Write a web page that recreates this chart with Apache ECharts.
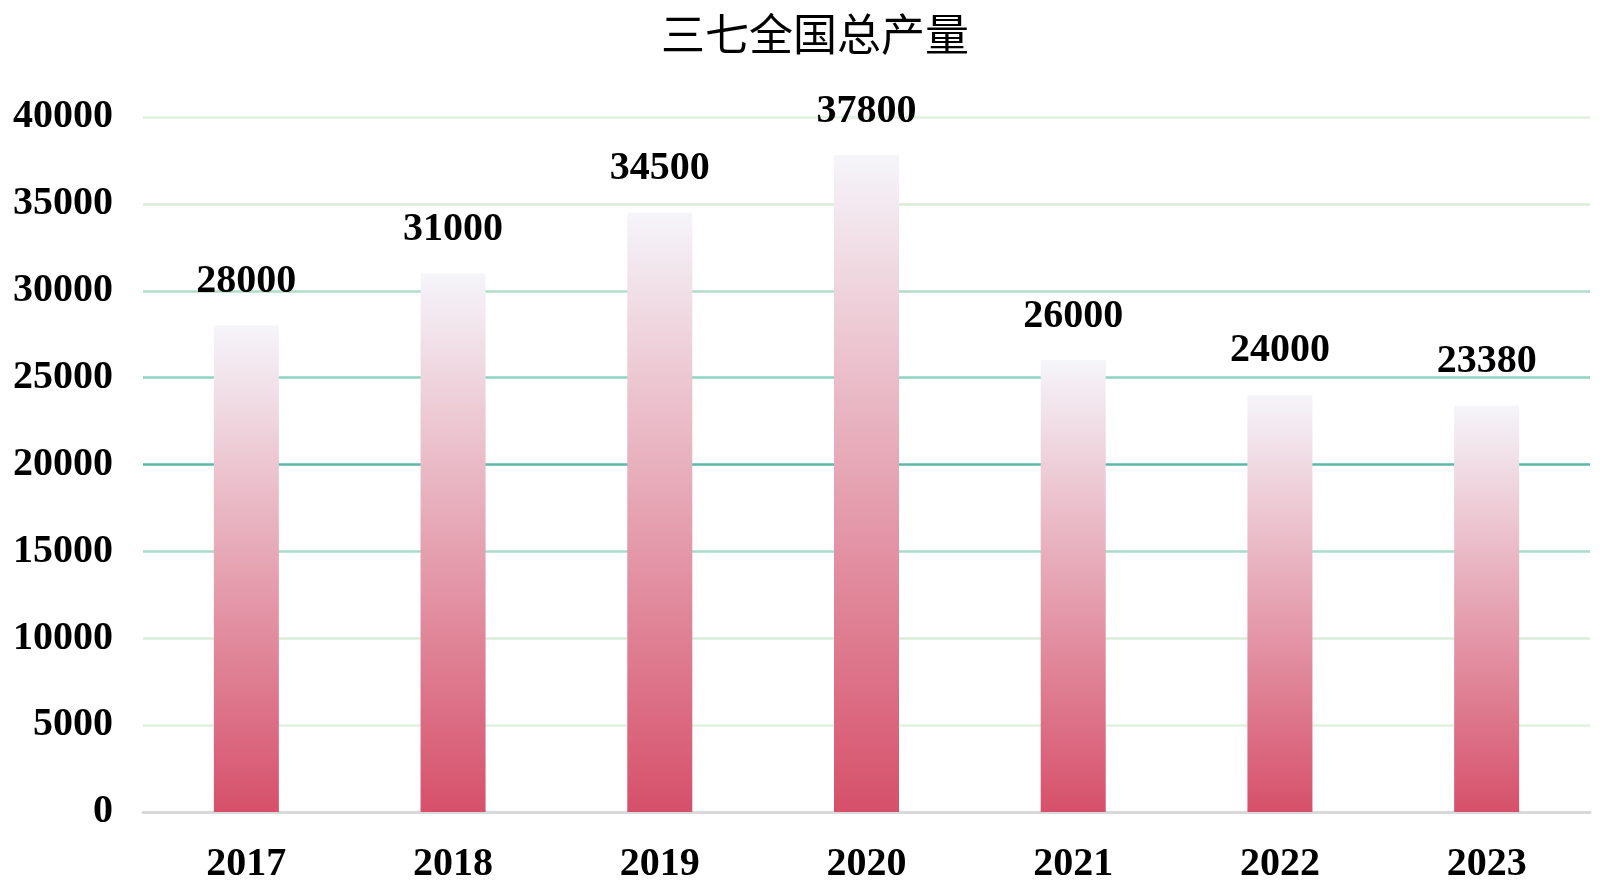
<!DOCTYPE html>
<html>
<head>
<meta charset="utf-8">
<script src="https://cdn.jsdelivr.net/npm/echarts@6/dist/echarts.min.js"></script>
<style>
html,body{margin:0;padding:0;background:#fff;}
#c{width:1600px;height:885px;}
</style>
</head>
<body>
<div id="c"></div>
<script>
const titleText = '三七全国总产量';
const categories = ['2017','2018','2019','2020','2021','2022','2023'];
const values = [28000, 31000, 34500, 37800, 26000, 24000, 23380];
const yTicks = [0, 5000, 10000, 15000, 20000, 25000, 30000, 35000, 40000];

const chart = echarts.init(document.getElementById('c'));
const serif = '"Liberation Serif","Times New Roman",serif';
chart.setOption({
  animation: false,
  backgroundColor: '#ffffff',
  title: {
    text: titleText,
    left: 810, top: 7, textAlign: 'center',
    textStyle: { fontFamily: '"Noto Sans CJK SC"', fontWeight: 'normal', fontSize: 44, color: '#000' }
  },
  grid: { left: 143, right: 10, top: 117, bottom: 72 },
  xAxis: {
    type: 'category',
    data: categories,
    axisLine: { show: true, lineStyle: { color: '#d9d9d9', width: 3 } },
    axisTick: { show: false },
    axisLabel: { margin: 33, fontFamily: serif, fontWeight: 'bold', fontSize: 40, color: '#000' }
  },
  yAxis: {
    type: 'value',
    min: yTicks[0], max: yTicks[yTicks.length - 1], interval: 5000,
    axisLine: { show: false },
    axisTick: { show: false },
    axisLabel: { margin: 30, fontFamily: serif, fontWeight: 'bold', fontSize: 40, color: '#000',
      padding: [6, 0, 0, 0],
      formatter: v => String(v) },
    splitLine: { show: true, lineStyle: { width: 2.5, color: ['#d9d9d9','#e2f0e2','#d8ecd8','#a8dcc8','#5bb8a8','#8dd4c0','#b0dcc8','#d8ecd8','#e0f0e0'] } }
  },
  series: [{
    type: 'bar',
    data: values,
    barWidth: 65,
    itemStyle: {
      color: new echarts.graphic.LinearGradient(0, 0, 0, 1, [
        { offset: 0, color: '#f5f5fa' },
        { offset: 1, color: '#d6506a' }
      ])
    },
    label: {
      show: true, position: 'top', distance: 24,
      fontFamily: serif, fontWeight: 'bold', fontSize: 40, color: '#000'
    }
  }]
});
</script>
</body>
</html>
